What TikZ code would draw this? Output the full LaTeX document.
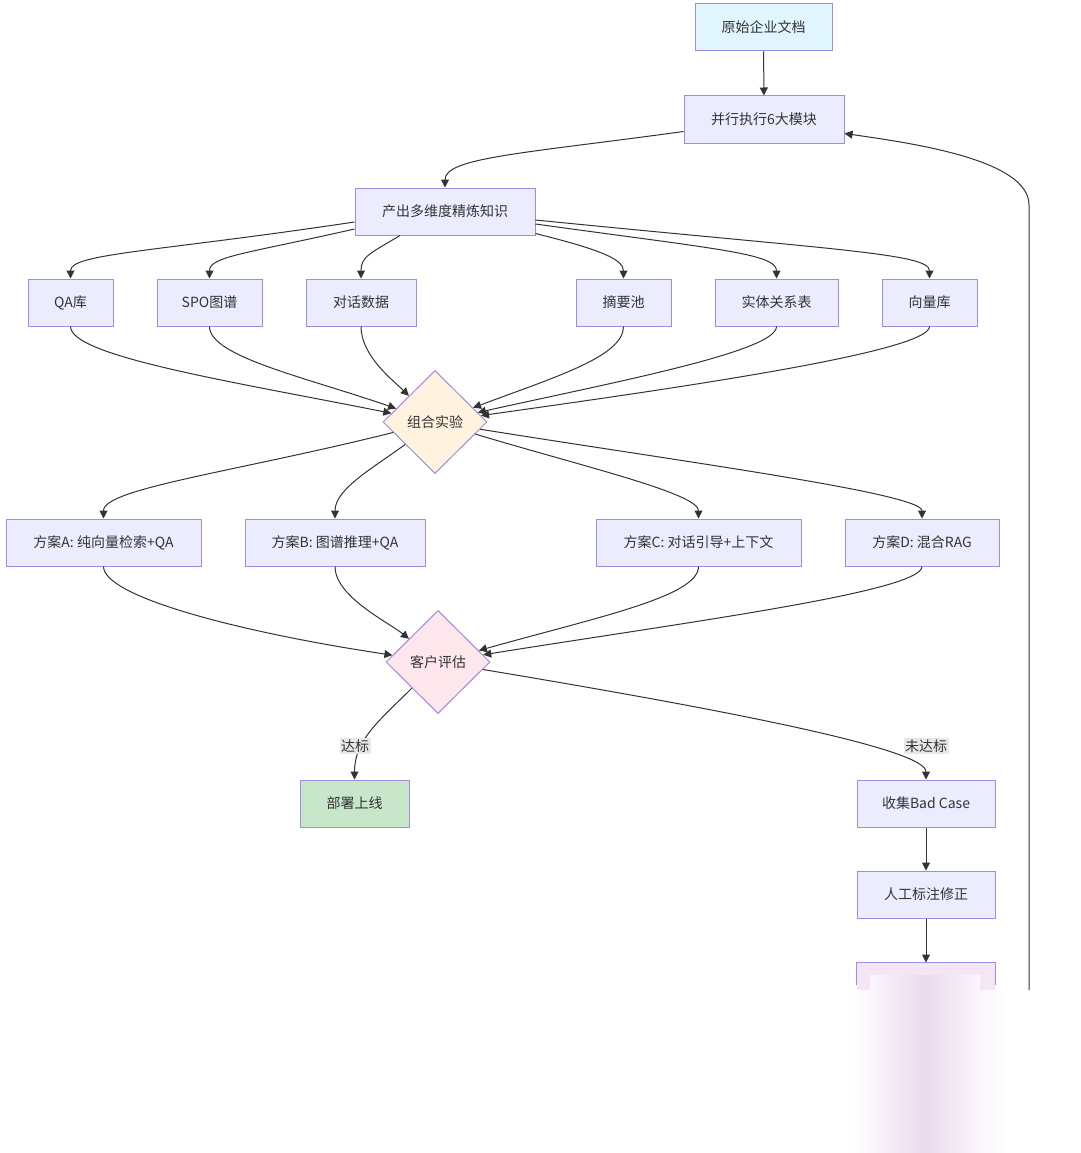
\documentclass[tikz,border=0pt]{standalone}
\usepackage{fontspec}
\setmainfont{Noto Sans CJK SC}
\usetikzlibrary{shapes.geometric,arrows.meta}
\definecolor{nodefill}{HTML}{ECECFF}
\definecolor{nodeborder}{HTML}{A08CE0}
\definecolor{docfill}{HTML}{E1F5FE}
\definecolor{expfill}{HTML}{FFF3E0}
\definecolor{evafill}{HTML}{FDE6EC}
\definecolor{depfill}{HTML}{C8E6C9}
\definecolor{updfill}{HTML}{F5E6F7}
\definecolor{updmid}{HTML}{E9DBED}
\definecolor{edgecol}{HTML}{333333}
\definecolor{txt}{HTML}{333333}
\definecolor{lblfill}{HTML}{E8E8E8}
\begin{document}
\begin{tikzpicture}[x=1pt,y=-1pt,
  every node/.style={font=\fontsize{14pt}{17pt}\selectfont, text=txt},
  proc/.style={rectangle, draw=nodeborder, line width=1pt, fill=nodefill, minimum height=47pt, inner sep=0pt},
  decis/.style={diamond, draw=nodeborder, line width=1pt, minimum width=104pt, minimum height=103pt, inner sep=0pt},
  conn/.style={draw=edgecol, line width=1pt, -{Triangle[length=8pt,width=8pt]}},
  lbl/.style={fill=lblfill, inner sep=1.5pt}
]
\useasboundingbox (0,0) rectangle (1080,1153);

% faded bottom column (blurred, illegible node)
\fill[updfill] (857,963) rectangle (995,990);
\shade[left color=white, right color=white, middle color=updfill] (845,990) rectangle (1007,1153);
\shade[left color=updfill!40, right color=updfill!40, middle color=updmid] (870,975) rectangle (980,1153);

% nodes
\node[proc, fill=docfill, minimum width=137pt] (doc) at (763.5,27.5) {原始企业文档};
\node[proc, minimum width=160pt] (par) at (764,119.5) {并行执行6大模块};
\node[proc, minimum width=180pt] (out) at (445,211.5) {产出多维度精炼知识};
\node[proc, minimum width=85pt] (qa) at (70.5,302.5) {QA库};
\node[proc, minimum width=105pt] (spo) at (209.5,302.5) {SPO图谱};
\node[proc, minimum width=110pt] (dlg) at (361,302.5) {对话数据};
\node[proc, minimum width=95pt] (sum) at (623.5,302.5) {摘要池};
\node[proc, minimum width=123pt] (ent) at (776.5,302.5) {实体关系表};
\node[proc, minimum width=95pt] (vec) at (929.5,302.5) {向量库};
\node[decis, fill=expfill] (exp) at (435,422) {组合实验};
\node[proc, minimum width=195pt] (pa) at (103.5,542.5) {方案A: 纯向量检索+QA};
\node[proc, minimum width=180pt] (pb) at (335,542.5) {方案B: 图谱推理+QA};
\node[proc, minimum width=205pt] (pc) at (698.5,542.5) {方案C: 对话引导+上下文};
\node[proc, minimum width=154pt] (pd) at (922,542.5) {方案D: 混合RAG};
\node[decis, fill=evafill] (eva) at (438,662) {客户评估};
\node[proc, fill=depfill, minimum width=109pt] (dep) at (354.5,803.5) {部署上线};
\node[proc, minimum width=138pt] (bad) at (926,803.5) {收集Bad Case};
\node[proc, minimum width=138pt] (fix) at (926,894.5) {人工标注修正};
\node[proc, draw=none, fill=none, minimum width=138pt] (upd) at (926,986.5) {};
\draw[nodeborder, line width=1pt] ([yshift=-22pt]upd.north west) -- (upd.north west) -- (upd.north east) -- ([yshift=-22pt]upd.north east);

\coordinate (loopstart) at (1029,990);
\coordinate (loopbend) at (1029,205);

% edges
\draw[conn] (doc) -- (par);
\draw[conn] ([yshift=-12pt]par.west) .. controls +(-160,22) and +(0,-30) .. (out.north);
\draw[conn] ([yshift=-10.5pt]out.west) .. controls +(-200,30) and +(0,-25) .. (qa.north);
\draw[conn] ([yshift=-17.5pt]out.west) .. controls +(-110,25) and +(0,-22) .. (spo.north);
\draw[conn] ([xshift=-45pt]out.south) .. controls +(-30,18) and +(0,-22) .. (dlg.north);
\draw[conn] ([yshift=-22pt]out.east) .. controls +(60,15) and +(0,-20) .. (sum.north);
\draw[conn] ([yshift=-12.5pt]out.east) .. controls +(180,25) and +(0,-25) .. (ent.north);
\draw[conn] ([yshift=-8.5pt]out.east) .. controls +(300,30) and +(0,-25) .. (vec.north);

\draw[conn] (qa.south) .. controls +(0,30) and +(-200,-40) .. (exp);
\draw[conn] (spo.south) .. controls +(0,30) and +(-130,-45) .. (exp);
\draw[conn] (dlg.south) .. controls +(0,30) and +(-40,-40) .. (exp);
\draw[conn] (sum.south) .. controls +(0,30) and +(120,-45) .. (exp);
\draw[conn] (ent.south) .. controls +(0,25) and +(180,-40) .. (exp);
\draw[conn] (vec.south) .. controls +(0,25) and +(250,-35) .. (exp);

\draw[conn] (exp) .. controls +(-200,50) and +(0,-30) .. (pa.north);
\draw[conn] (exp) .. controls +(-60,45) and +(0,-30) .. (pb.north);
\draw[conn] (exp) .. controls +(150,45) and +(0,-25) .. (pc.north);
\draw[conn] (exp) .. controls +(250,40) and +(0,-25) .. (pd.north);

\draw[conn] (pa.south) .. controls +(0,30) and +(-200,-30) .. (eva);
\draw[conn] (pb.south) .. controls +(0,30) and +(-50,-40) .. (eva);
\draw[conn] (pc.south) .. controls +(0,30) and +(160,-45) .. (eva);
\draw[conn] (pd.south) .. controls +(0,25) and +(250,-40) .. (eva);

\draw[conn] (eva) .. controls +(-58,58) and +(0,-40) .. (dep.north);
\draw[conn] (eva) .. controls +(300,50) and +(0,-30) .. (bad.north);
\node[lbl] (lok) at (355,746) {达标};
\node[lbl] (lno) at (926,746) {未达标};

\draw[conn] (bad) -- (fix);
\draw[conn] (fix) -- (upd.north);
\draw[conn] (loopstart) -- (loopbend) .. controls +(0,-45) and +(70,10) .. ([yshift=-14pt]par.east);
\end{tikzpicture}
\end{document}
